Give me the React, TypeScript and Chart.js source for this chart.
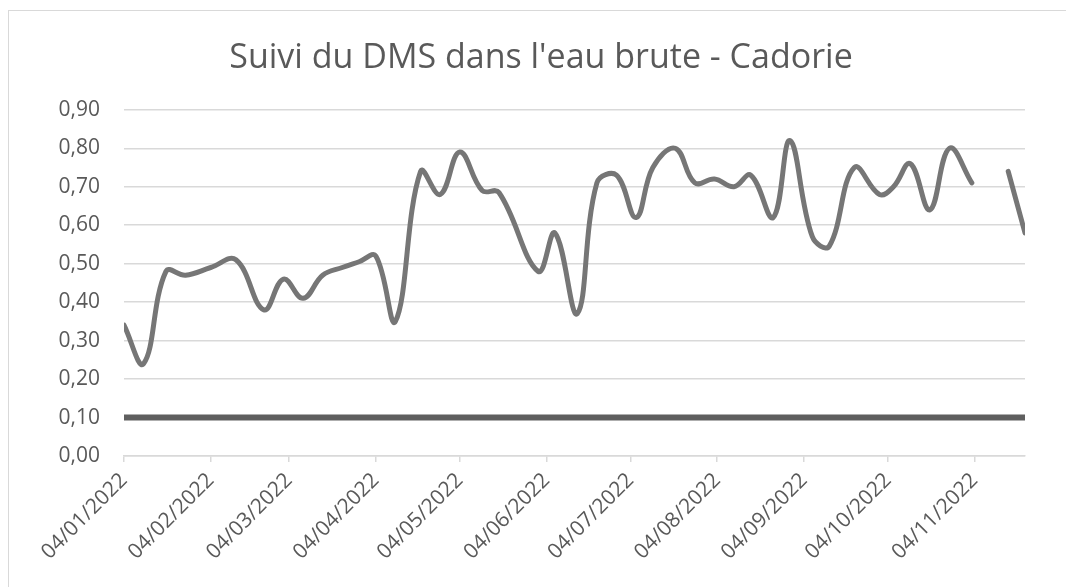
import React, { useEffect, useRef } from 'react';
import { Chart, registerables } from 'chart.js';

Chart.register(...registerables);

// Sample dates (yyyy-mm-dd) and DMS values; null = missing measurement (gap)
const sampleDates = [
  '2022-01-04', '2022-01-11', '2022-01-19', '2022-01-26', '2022-02-04', '2022-02-13',
  '2022-02-23', '2022-03-02', '2022-03-09', '2022-03-16', '2022-03-23', '2022-03-29',
  '2022-04-04', '2022-04-11', '2022-04-20', '2022-04-27', '2022-05-04', '2022-05-12',
  '2022-05-18', '2022-06-01', '2022-06-07', '2022-06-15', '2022-06-22', '2022-06-29',
  '2022-07-06', '2022-07-12', '2022-07-20', '2022-07-27', '2022-08-03', '2022-08-10',
  '2022-08-16', '2022-08-24', '2022-08-30', '2022-09-07', '2022-09-13', '2022-09-22',
  '2022-10-01', '2022-10-06', '2022-10-12', '2022-10-19', '2022-10-26', '2022-11-03',
  '2022-11-10', '2022-11-16', '2022-11-22',
];
const dmsValues: (number | null)[] = [
  0.34, 0.24, 0.48, 0.47, 0.49, 0.51,
  0.38, 0.46, 0.41, 0.47, 0.49, 0.505,
  0.52, 0.35, 0.74, 0.68, 0.79, 0.69,
  0.685, 0.48, 0.58, 0.37, 0.71, 0.73,
  0.62, 0.75, 0.80, 0.71, 0.72, 0.70,
  0.73, 0.62, 0.82, 0.57, 0.545, 0.75,
  0.68, 0.70, 0.76, 0.64, 0.80, 0.71,
  null, 0.74, 0.58,
];
const thresholdValue = 0.1;

const tickDates = [
  '2022-01-04', '2022-02-04', '2022-03-04', '2022-04-04', '2022-05-04', '2022-06-04',
  '2022-07-04', '2022-08-04', '2022-09-04', '2022-10-04', '2022-11-04',
];
const tickLabels = [
  '04/01/2022', '04/02/2022', '04/03/2022', '04/04/2022', '04/05/2022', '04/06/2022',
  '04/07/2022', '04/08/2022', '04/09/2022', '04/10/2022', '04/11/2022',
];

const chartTitle = "Suivi du DMS dans l'eau brute - Cadorie";

const DAY_MS = 86400000;
const ORIGIN = Date.UTC(2022, 0, 4);
const toDay = (s: string) => {
  const [y, m, d] = s.split('-').map(Number);
  return (Date.UTC(y, m - 1, d) - ORIGIN) / DAY_MS;
};

const FONT = "'Open Sans', 'DejaVu Sans', sans-serif";
const TEXT = '#595959';
const GRID = '#d9d9d9';

export default function App() {
  const canvasRef = useRef<HTMLCanvasElement | null>(null);

  useEffect(() => {
    if (!canvasRef.current) return;
    const xs = sampleDates.map(toDay);
    const minX = xs[0];
    const maxX = xs[xs.length - 1];
    const tickDays = tickDates.map(toDay);

    const chart = new Chart(canvasRef.current, {
      type: 'line',
      data: {
        datasets: [
          {
            label: 'DMS',
            data: xs.map((x, i) => ({ x, y: dmsValues[i] })),
            borderColor: '#767676',
            borderWidth: 5,
            tension: 0.4,
            pointRadius: 0,
            spanGaps: false,
            borderCapStyle: 'round',
            borderJoinStyle: 'round',
            fill: false,
          },
          {
            label: 'Seuil',
            data: [
              { x: minX, y: thresholdValue },
              { x: maxX, y: thresholdValue },
            ],
            borderColor: '#5f5f5f',
            borderWidth: 6,
            tension: 0,
            pointRadius: 0,
            fill: false,
          },
        ],
      },
      options: {
        responsive: false,
        animation: false,
        layout: { padding: { left: 7, right: 0, top: 0, bottom: 0 } },
        plugins: {
          legend: { display: false },
          tooltip: { enabled: false },
          title: {
            display: true,
            text: chartTitle,
            color: TEXT,
            font: { family: FONT, size: 34, weight: 'normal', lineHeight: 1.2 },
            padding: { top: 27, bottom: 31 },
          },
        },
        scales: {
          x: {
            type: 'linear',
            min: minX,
            max: maxX,
            afterBuildTicks: (scale: any) => {
              scale.ticks = tickDays.map((v) => ({ value: v }));
            },
            afterFit: (scale: any) => {
              scale.height = 131;
            },
            ticks: {
              autoSkip: false,
              maxRotation: 45,
              minRotation: 45,
              padding: 6,
              color: TEXT,
              font: { family: FONT, size: 21 },
              callback: (_v: any, i: number) => tickLabels[i],
            },
            grid: {
              display: true,
              drawOnChartArea: false,
              drawTicks: true,
              tickLength: 6,
              color: GRID,
              lineWidth: 1.5,
            },
            border: { display: true, color: GRID, width: 1.5 },
          },
          y: {
            min: 0,
            max: 0.9,
            afterFit: (scale: any) => {
              scale.width = 108;
            },
            ticks: {
              stepSize: 0.1,
              padding: 24,
              color: TEXT,
              font: { family: FONT, size: 21 },
              callback: (v: any) => Number(v).toFixed(2).replace('.', ','),
            },
            grid: { color: GRID, lineWidth: 1.5, drawTicks: false },
            border: { display: false },
          },
          yRight: {
            position: 'right',
            display: true,
            afterFit: (scale: any) => {
              scale.width = 41;
            },
            ticks: { display: false },
            grid: { drawOnChartArea: false, drawTicks: false },
            border: { display: false },
          },
        },
      },
    });
    return () => chart.destroy();
  }, []);

  return (
    <div
      style={{
        position: 'fixed',
        left: 8,
        top: 10,
        width: 1057,
        height: 576,
        borderTop: '1px solid #d9d9d9',
        borderLeft: '1px solid #d9d9d9',
        background: '#fff',
      }}
    >
      <canvas ref={canvasRef} width={1057} height={576} style={{ display: 'block' }} />
    </div>
  );
}
